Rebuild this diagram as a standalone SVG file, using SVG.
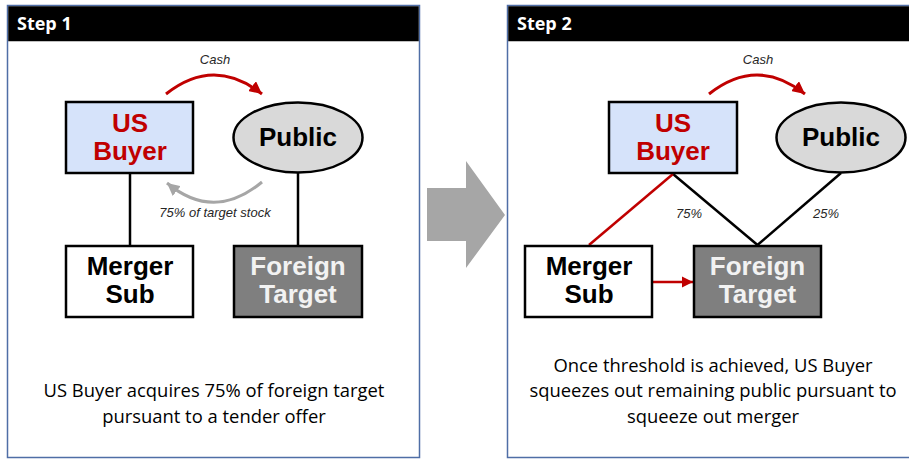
<svg xmlns="http://www.w3.org/2000/svg" width="909" height="460" viewBox="0 0 909 460">
  <style>
    .panel { fill: #ffffff; stroke: #4f6ea6; stroke-width: 1.5; }
    .hdr { fill: #000000; }
    .hdr-text { font-family: "Open Sans", "Liberation Sans", sans-serif; font-weight: bold; font-size: 18px; fill: #ffffff; }
    .box { stroke: #000000; stroke-width: 2.5; }
    .buyer { fill: #d6e3fa; }
    .sub { fill: #ffffff; }
    .target { fill: #7f7f7f; }
    .public { fill: #d9d9d9; stroke: #000000; stroke-width: 2.5; }
    .lbl { font-family: "Liberation Sans", Arial, sans-serif; font-weight: bold; font-size: 26px; text-anchor: middle; }
    .red { fill: #c00000; }
    .blk { fill: #000000; }
    .wht { fill: #f2f2f2; }
    .note { font-family: "Liberation Sans", Arial, sans-serif; font-style: italic; font-size: 13px; fill: #262626; text-anchor: middle; }
    .cap { font-family: "Open Sans", "Liberation Sans", sans-serif; font-size: 18.4px; fill: #000000; text-anchor: middle; }
    .own { fill: none; stroke: #000000; stroke-width: 2.5; }
    .own-red { fill: none; stroke: #c00000; stroke-width: 2.5; }
    .cash { fill: none; stroke: #c00000; stroke-width: 3; }
    .stock { fill: none; stroke: #a6a6a6; stroke-width: 3; }
  </style>
  <defs>
    <marker id="headRed" viewBox="0 0 10 10" refX="10" refY="5" markerWidth="4.2" markerHeight="4.2" orient="auto" markerUnits="strokeWidth">
      <path d="M0,0 L10,5 L0,10 Z" fill="#c00000"/>
    </marker>
    <marker id="headGray" viewBox="0 0 10 10" refX="10" refY="5" markerWidth="4.2" markerHeight="4.2" orient="auto" markerUnits="strokeWidth">
      <path d="M0,0 L10,5 L0,10 Z" fill="#a6a6a6"/>
    </marker>
    <marker id="headRedSmall" viewBox="0 0 10 10" refX="10" refY="5" markerWidth="4.5" markerHeight="5" orient="auto" markerUnits="strokeWidth">
      <path d="M0,0 L10,5 L0,10 Z" fill="#c00000"/>
    </marker>
  </defs>

  <rect width="909" height="460" fill="#ffffff"/>

  <!-- panel frames -->
  <g id="panel-step1">
    <rect class="panel" x="7.5" y="5.5" width="412" height="452"/>
    <rect class="hdr" x="8.25" y="6.25" width="410.5" height="35"/>
    <text class="hdr-text" x="17" y="30">Step 1</text>
  </g>
  <g id="panel-step2">
    <rect class="panel" x="507.5" y="5.5" width="410" height="452"/>
    <rect class="hdr" x="508.25" y="6.25" width="410" height="35"/>
    <text class="hdr-text" x="517" y="30">Step 2</text>
  </g>

  <!-- block arrow between the steps -->
  <g id="step-arrow">
    <polygon points="427,188 466,188 466,161 505,215 466,268 466,241 427,241" fill="#a6a6a6"/>
  </g>

  <!-- connectors -->
  <g id="connectors">
    <!-- step 1 -->
    <line class="own" x1="130" y1="174" x2="130" y2="245"/>
    <line class="own" x1="298" y1="173" x2="298" y2="245"/>
    <path class="cash" d="M166,94 Q214,56 262,94" marker-end="url(#headRed)"/>
    <path class="stock" d="M262,182 Q214,222 167,183" marker-end="url(#headGray)"/>
    <!-- step 2 -->
    <path class="cash" d="M709,94 Q757,56 805,94" marker-end="url(#headRed)"/>
    <line class="own" x1="673" y1="174" x2="757.5" y2="245"/>
    <line class="own" x1="841" y1="173" x2="757.5" y2="245"/>
    <line class="own-red" x1="673" y1="174" x2="589" y2="245"/>
    <line class="own-red" x1="653" y1="282" x2="693" y2="282" marker-end="url(#headRedSmall)"/>
  </g>

  <!-- connector labels -->
  <g id="connector-labels">
    <text class="note" x="215" y="64">Cash</text>
    <text class="note" x="215" y="217">75% of target stock</text>
    <text class="note" x="758" y="64">Cash</text>
    <text class="note" x="689" y="218">75%</text>
    <text class="note" x="826" y="218">25%</text>
  </g>

  <!-- step 1 nodes -->
  <g id="s1-us-buyer">
    <rect class="box buyer" x="66" y="102" width="127" height="71"/>
    <text class="lbl red" x="130" y="132">US</text>
    <text class="lbl red" x="130" y="160">Buyer</text>
  </g>
  <g id="s1-public">
    <ellipse class="public" cx="298" cy="137.5" rx="64.5" ry="35"/>
    <text class="lbl blk" x="298" y="146">Public</text>
  </g>
  <g id="s1-merger-sub">
    <rect class="box sub" x="66" y="246" width="127" height="71"/>
    <text class="lbl blk" x="130" y="275">Merger</text>
    <text class="lbl blk" x="130" y="303">Sub</text>
  </g>
  <g id="s1-foreign-target">
    <rect class="box target" x="234" y="246" width="128" height="71"/>
    <text class="lbl wht" x="298" y="275">Foreign</text>
    <text class="lbl wht" x="298" y="303">Target</text>
  </g>

  <!-- step 2 nodes -->
  <g id="s2-us-buyer">
    <rect class="box buyer" x="609" y="102" width="128" height="71"/>
    <text class="lbl red" x="673" y="132">US</text>
    <text class="lbl red" x="673" y="160">Buyer</text>
  </g>
  <g id="s2-public">
    <ellipse class="public" cx="841" cy="137.5" rx="64.5" ry="35"/>
    <text class="lbl blk" x="841" y="146">Public</text>
  </g>
  <g id="s2-merger-sub">
    <rect class="box sub" x="525" y="246" width="127" height="71"/>
    <text class="lbl blk" x="589" y="275">Merger</text>
    <text class="lbl blk" x="589" y="303">Sub</text>
  </g>
  <g id="s2-foreign-target">
    <rect class="box target" x="694" y="246" width="127" height="71"/>
    <text class="lbl wht" x="757.5" y="275">Foreign</text>
    <text class="lbl wht" x="757.5" y="303">Target</text>
  </g>

  <!-- captions -->
  <g id="captions">
    <text class="cap" x="214" y="397">US Buyer acquires 75% of foreign target</text>
    <text class="cap" x="214" y="423">pursuant to a tender offer</text>
    <text class="cap" x="713" y="372">Once threshold is achieved, US Buyer</text>
    <text class="cap" x="713" y="397">squeezes out remaining public pursuant to</text>
    <text class="cap" x="713" y="423">squeeze out merger</text>
  </g>
</svg>
